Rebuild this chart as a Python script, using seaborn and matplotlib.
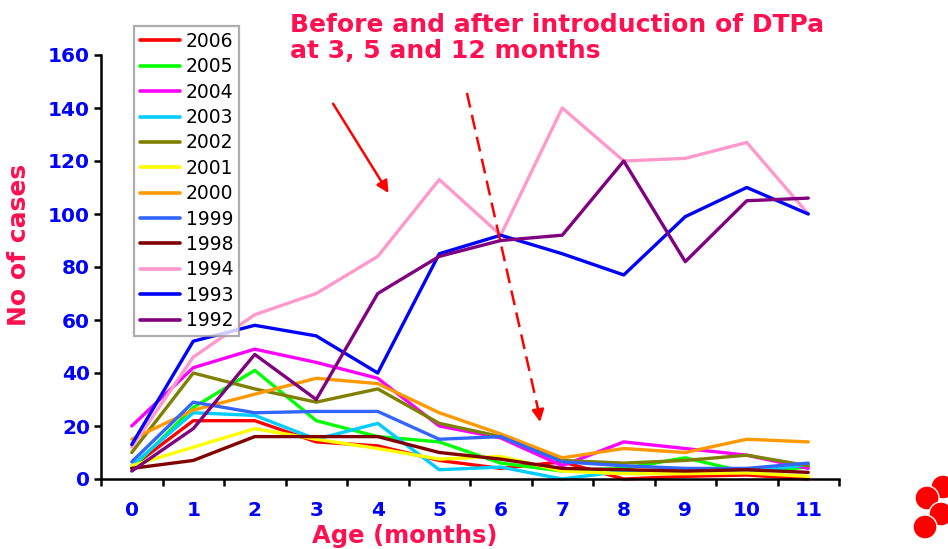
import matplotlib
matplotlib.use("Agg")
import matplotlib.pyplot as plt
from matplotlib.patches import Ellipse
import seaborn as sns
import pandas as pd

# Monthly pertussis cases by age in months, one series per year
months = list(range(12))
years = ["2006", "2005", "2004", "2003", "2002", "2001", "2000",
         "1999", "1998", "1994", "1993", "1992"]
cases_2006 = [4.5, 22, 22, 14, 12.5, 7, 4, 6.5, 0, 1, 1.5, 0]
cases_2005 = [4, 27, 41, 22, 16, 14, 6, 3, 4, 8, 2.5, 4.5]
cases_2004 = [20, 42, 49, 44, 38, 20, 15.5, 5, 14, 11.5, 9, 4]
cases_2003 = [5, 25, 24, 15, 21, 3.5, 4.5, 0, 3, 3, 2.5, 5.5]
cases_2002 = [10, 40, 34, 29, 34, 21, 16, 7, 6, 7, 9, 5]
cases_2001 = [5, 12, 19, 15, 11.5, 7.5, 8.5, 3, 2, 2, 2.3, 1]
cases_2000 = [15, 26, 32, 38, 36, 25, 17, 8, 11.5, 10, 15, 14]
cases_1999 = [6.5, 29, 25, 25.5, 25.5, 15, 16, 6.5, 5, 4, 4, 6]
cases_1998 = [4, 7, 16, 16, 16, 10, 7.5, 4, 3.5, 3, 3.5, 2.5]
cases_1994 = [12, 46, 62, 70, 84, 113, 92, 140, 120, 121, 127, 100]
cases_1993 = [13, 52, 58, 54, 40, 85, 92, 85, 77, 99, 110, 100]
cases_1992 = [3, 19, 47, 30, 70, 84, 90, 92, 120, 82, 105, 106]

series = [cases_2006, cases_2005, cases_2004, cases_2003, cases_2002, cases_2001,
          cases_2000, cases_1999, cases_1998, cases_1994, cases_1993, cases_1992]
colors = ["#FF0000", "#00FF00", "#FF00FF", "#00CCFF", "#808000", "#FFFF00",
          "#FF9900", "#3366FF", "#800000", "#FF99CC", "#0000FF", "#800080"]

df = pd.DataFrame(
    [(y, m, v) for y, vals in zip(years, series) for m, v in zip(months, vals)],
    columns=["year", "month", "cases"],
)

sns.set_theme(style="white")
plt.rcParams["font.family"] = ["DejaVu Sans"]

ACCENT = "#FF1050"
TICK_BLUE = "#0000FF"

fig = plt.figure(figsize=(9.48, 5.49), dpi=100)
ax = fig.add_axes([101 / 948, 1 - 479 / 549, 738 / 948, 424 / 549])

sns.lineplot(data=df, x="month", y="cases", hue="year", hue_order=years,
             palette=dict(zip(years, colors)), linewidth=2.4, ax=ax,
             legend=False, clip_on=False)

ax.set_xlim(-0.5, 11.5)
ax.set_ylim(0, 160)

# category labels at centres, tick marks at category boundaries
ax.set_xticks(months)
ax.set_xticklabels([str(m) for m in months])
ax.set_xticks([m - 0.5 for m in months] + [11.5], minor=True)
ax.tick_params(axis="x", which="major", length=0, pad=16,
               labelsize=14.5, labelcolor=TICK_BLUE)
ax.tick_params(axis="x", which="minor", bottom=True, length=5, width=1.8,
               color="black", direction="out")
ax.set_yticks(range(0, 161, 20))
ax.tick_params(axis="y", which="major", left=True, length=5, width=1.8,
               color="black", direction="out", pad=3,
               labelsize=14.5, labelcolor=TICK_BLUE)
for lab in ax.get_xticklabels() + ax.get_yticklabels():
    lab.set_fontweight("bold")

for side in ("top", "right"):
    ax.spines[side].set_visible(False)
for side in ("left", "bottom"):
    ax.spines[side].set_color("black")
    ax.spines[side].set_linewidth(1.8)
ax.grid(False)
ax.set_xlabel("")
ax.set_ylabel("")

fig.text(405 / 948, 1 - 536 / 549, "Age (months)", color=ACCENT,
         fontsize=17.5, fontweight="bold", ha="center", va="center")
fig.text(19 / 948, 1 - 245 / 549, "No of cases", color=ACCENT,
         fontsize=18, fontweight="bold", ha="center", va="center",
         rotation=90)
fig.text(290 / 948, 1 - 13 / 549,
         "Before and after introduction of DTPa\nat 3, 5 and 12 months",
         color=ACCENT, fontsize=18, fontweight="bold", ha="left", va="top",
         linespacing=1.08)

# legend
handles = [plt.Line2D([], [], color=c, linewidth=2.6) for c in colors]
leg = ax.legend(handles, years, loc="upper left",
                bbox_to_anchor=(134 / 948, 1 - 26 / 549),
                bbox_transform=fig.transFigure, frameon=True, fancybox=False,
                fontsize=13.5, handlelength=2.15, handletextpad=0.28,
                labelspacing=0.34, borderpad=0.32, borderaxespad=0)
leg.get_frame().set_edgecolor("#999999")
leg.get_frame().set_linewidth(1.6)
for t in leg.get_texts():
    t.set_color("black")

# arrows pointing at the change after introduction
ax.annotate("", xy=(4.2, 107), xytext=(3.25, 142.5),
            arrowprops=dict(arrowstyle="-|>", color="#FF0000", lw=1.8,
                            mutation_scale=18))
ax.plot([5.45, 6.6], [145.7, 27], color="#FF0000", lw=1.8,
        linestyle=(0, (6, 3)))
ax.annotate("", xy=(6.64, 21.5), xytext=(6.6, 27),
            arrowprops=dict(arrowstyle="-|>", color="#FF0000", lw=1.8,
                            mutation_scale=18, shrinkA=0, shrinkB=0))

# red dot logo in the corner
for cx, cy, r in [(943, 487, 12), (927, 498, 12), (941, 514, 12),
                  (925, 527, 12)]:
    fig.patches.append(Ellipse((cx / 948, 1 - cy / 549), 2 * r / 948,
                               2 * r / 549, transform=fig.transFigure,
                               facecolor="#FF0000", edgecolor="white",
                               linewidth=1.0, figure=fig))

fig.savefig("out.png", dpi=100)
